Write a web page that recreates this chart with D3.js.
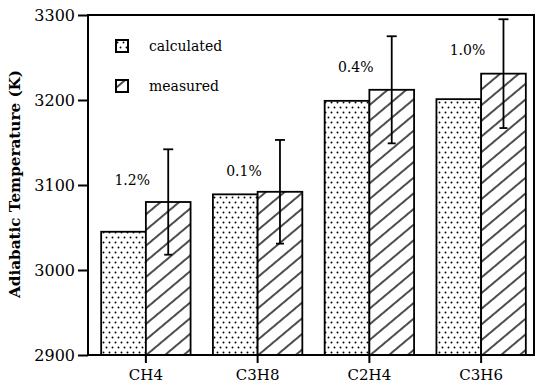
<!DOCTYPE html>
<html>
<head>
<meta charset="utf-8">
<script src="https://cdn.jsdelivr.net/npm/d3@7"></script>
<style>
  body { margin: 0; background: #fff; }
  svg { display: block; }
  text { font-family: "DejaVu Serif", serif; fill: #000; }
</style>
</head>
<body>
<div id="chart"></div>
<script>
// data
var fuels = ['CH4', 'C3H8', 'C2H4', 'C3H6'];
var calculated = [3045, 3089, 3199, 3201];
var measured = [3080, 3092, 3212, 3231];
var errors = [62, 61, 63, 64];
var diffLabels = ['1.2%', '0.1%', '0.4%', '1.0%'];
var yTicks = [2900, 3000, 3100, 3200, 3300];

var serif = '"DejaVu Serif", serif';

var width = 536, height = 385;
var margin = { left: 88, right: 2, top: 15, bottom: 30 };

var svg = d3.select('#chart').append('svg')
    .attr('width', width)
    .attr('height', height);

var defs = svg.append('defs');

// dotted fill
var dots = defs.append('pattern')
    .attr('id', 'dots')
    .attr('patternUnits', 'userSpaceOnUse')
    .attr('width', 6)
    .attr('height', 10);
dots.append('circle').attr('cx', 1.5).attr('cy', 2.5).attr('r', 0.95).attr('fill', '#000');
dots.append('circle').attr('cx', 4.5).attr('cy', 7.5).attr('r', 0.95).attr('fill', '#000');

// hatched fill
var hatch = defs.append('pattern')
    .attr('id', 'hatch')
    .attr('patternUnits', 'userSpaceOnUse')
    .attr('width', 12)
    .attr('height', 12)
    .attr('patternTransform', 'rotate(-40)');
hatch.append('rect').attr('width', 12).attr('height', 12).attr('fill', '#fff');
hatch.append('line')
    .attr('x1', 0).attr('x2', 12)
    .attr('y1', 6).attr('y2', 6)
    .attr('stroke', '#000')
    .attr('stroke-width', 1.4);

var y = d3.scaleLinear()
    .domain([2900, 3300])
    .range([height - margin.bottom, margin.top]);

var x = d3.scaleBand()
    .domain(fuels)
    .range([90, 537])
    .padding(0);

var barW = x.bandwidth() * 0.4;
var center = function(f) { return x(f) + x.bandwidth() / 2; };

var x0 = margin.left;
var yTop = y(3300), yBot = y(2900);

// bars
var rows = fuels.map(function(f, i) {
    return { fuel: f, calc: calculated[i], meas: measured[i], err: errors[i], label: diffLabels[i] };
});

var g = svg.append('g');

g.selectAll('rect.calc')
    .data(rows)
    .enter()
    .append('rect')
    .attr('class', 'calc')
    .attr('x', function(d) { return center(d.fuel) - barW; })
    .attr('y', function(d) { return y(d.calc); })
    .attr('width', barW)
    .attr('height', function(d) { return yBot - y(d.calc); })
    .attr('fill', 'url(#dots)')
    .attr('stroke', '#000')
    .attr('stroke-width', 1.8);

g.selectAll('rect.meas')
    .data(rows)
    .enter()
    .append('rect')
    .attr('class', 'meas')
    .attr('x', function(d) { return center(d.fuel); })
    .attr('y', function(d) { return y(d.meas); })
    .attr('width', barW)
    .attr('height', function(d) { return yBot - y(d.meas); })
    .attr('fill', 'url(#hatch)')
    .attr('stroke', '#000')
    .attr('stroke-width', 1.8);

// error bars
var errX = function(d) { return center(d.fuel) + barW / 2; };
var eb = g.selectAll('g.err')
    .data(rows)
    .enter()
    .append('g')
    .attr('class', 'err')
    .attr('stroke', '#000')
    .attr('stroke-width', 1.8);
eb.append('line')
    .attr('x1', errX).attr('x2', errX)
    .attr('y1', function(d) { return y(d.meas + d.err); })
    .attr('y2', function(d) { return y(d.meas - d.err); });
eb.append('line')
    .attr('x1', function(d) { return errX(d) - 5; })
    .attr('x2', function(d) { return errX(d) + 5; })
    .attr('y1', function(d) { return y(d.meas + d.err); })
    .attr('y2', function(d) { return y(d.meas + d.err); });
eb.append('line')
    .attr('x1', function(d) { return errX(d) - 4; })
    .attr('x2', function(d) { return errX(d) + 4; })
    .attr('y1', function(d) { return y(d.meas - d.err); })
    .attr('y2', function(d) { return y(d.meas - d.err); });

// percentage labels
g.selectAll('text.pct')
    .data(rows)
    .enter()
    .append('text')
    .attr('class', 'pct')
    .attr('x', function(d) { return errX(d) - 36; })
    .attr('y', function(d) { return y(d.meas + d.err) + 36; })
    .attr('text-anchor', 'middle')
    .style('font-family', serif)
    .style('font-size', '14px')
    .text(function(d) { return d.label; });

// frame
svg.append('rect')
    .attr('x', x0).attr('y', yTop)
    .attr('width', 534 - x0).attr('height', yBot - yTop)
    .attr('fill', 'none')
    .attr('stroke', '#000')
    .attr('stroke-width', 2);

// y axis
var yAxis = d3.axisLeft(y)
    .tickValues(yTicks)
    .tickSize(10)
    .tickPadding(3)
    .tickFormat(d3.format('d'));
var gy = svg.append('g')
    .attr('transform', 'translate(' + x0 + ',0)')
    .call(yAxis)
    .attr('font-family', serif);
gy.select('.domain').remove();
gy.selectAll('.tick line').attr('stroke-width', 2);
gy.selectAll('.tick text')
    .style('font-size', '16px')
    .style('font-family', serif);

// x axis: ticks at the group centres
var xAxis = d3.axisBottom(x)
    .tickSize(8)
    .tickPadding(6);
var gx = svg.append('g')
    .attr('transform', 'translate(0,' + yBot + ')')
    .call(xAxis)
    .attr('font-family', serif);
gx.select('.domain').remove();
gx.selectAll('.tick line').attr('stroke-width', 2);
gx.selectAll('.tick text')
    .style('font-size', '15px')
    .style('font-family', serif);

// y title
svg.append('text')
    .attr('transform', 'translate(20,184) rotate(-90)')
    .attr('text-anchor', 'middle')
    .attr('textLength', 228)
    .attr('lengthAdjust', 'spacingAndGlyphs')
    .style('font-family', serif)
    .style('font-weight', 'bold')
    .style('font-size', '14px')
    .text('Adiabatic Temperature (K)');

// legend
var legend = [
    { name: 'calculated', fill: 'url(#dots)' },
    { name: 'measured', fill: 'url(#hatch)' }
];
var lg = svg.selectAll('g.legend')
    .data(legend)
    .enter()
    .append('g')
    .attr('class', 'legend')
    .attr('transform', function(d, i) { return 'translate(116,' + (40 + i * 40) + ')'; });
lg.append('rect')
    .attr('width', 12).attr('height', 12)
    .attr('fill', function(d) { return d.fill; })
    .attr('stroke', '#000')
    .attr('stroke-width', 2);
lg.append('text')
    .attr('x', 33)
    .attr('y', 11)
    .style('font-family', serif)
    .style('font-size', '14px')
    .text(function(d) { return d.name; });
</script>
</body>
</html>
